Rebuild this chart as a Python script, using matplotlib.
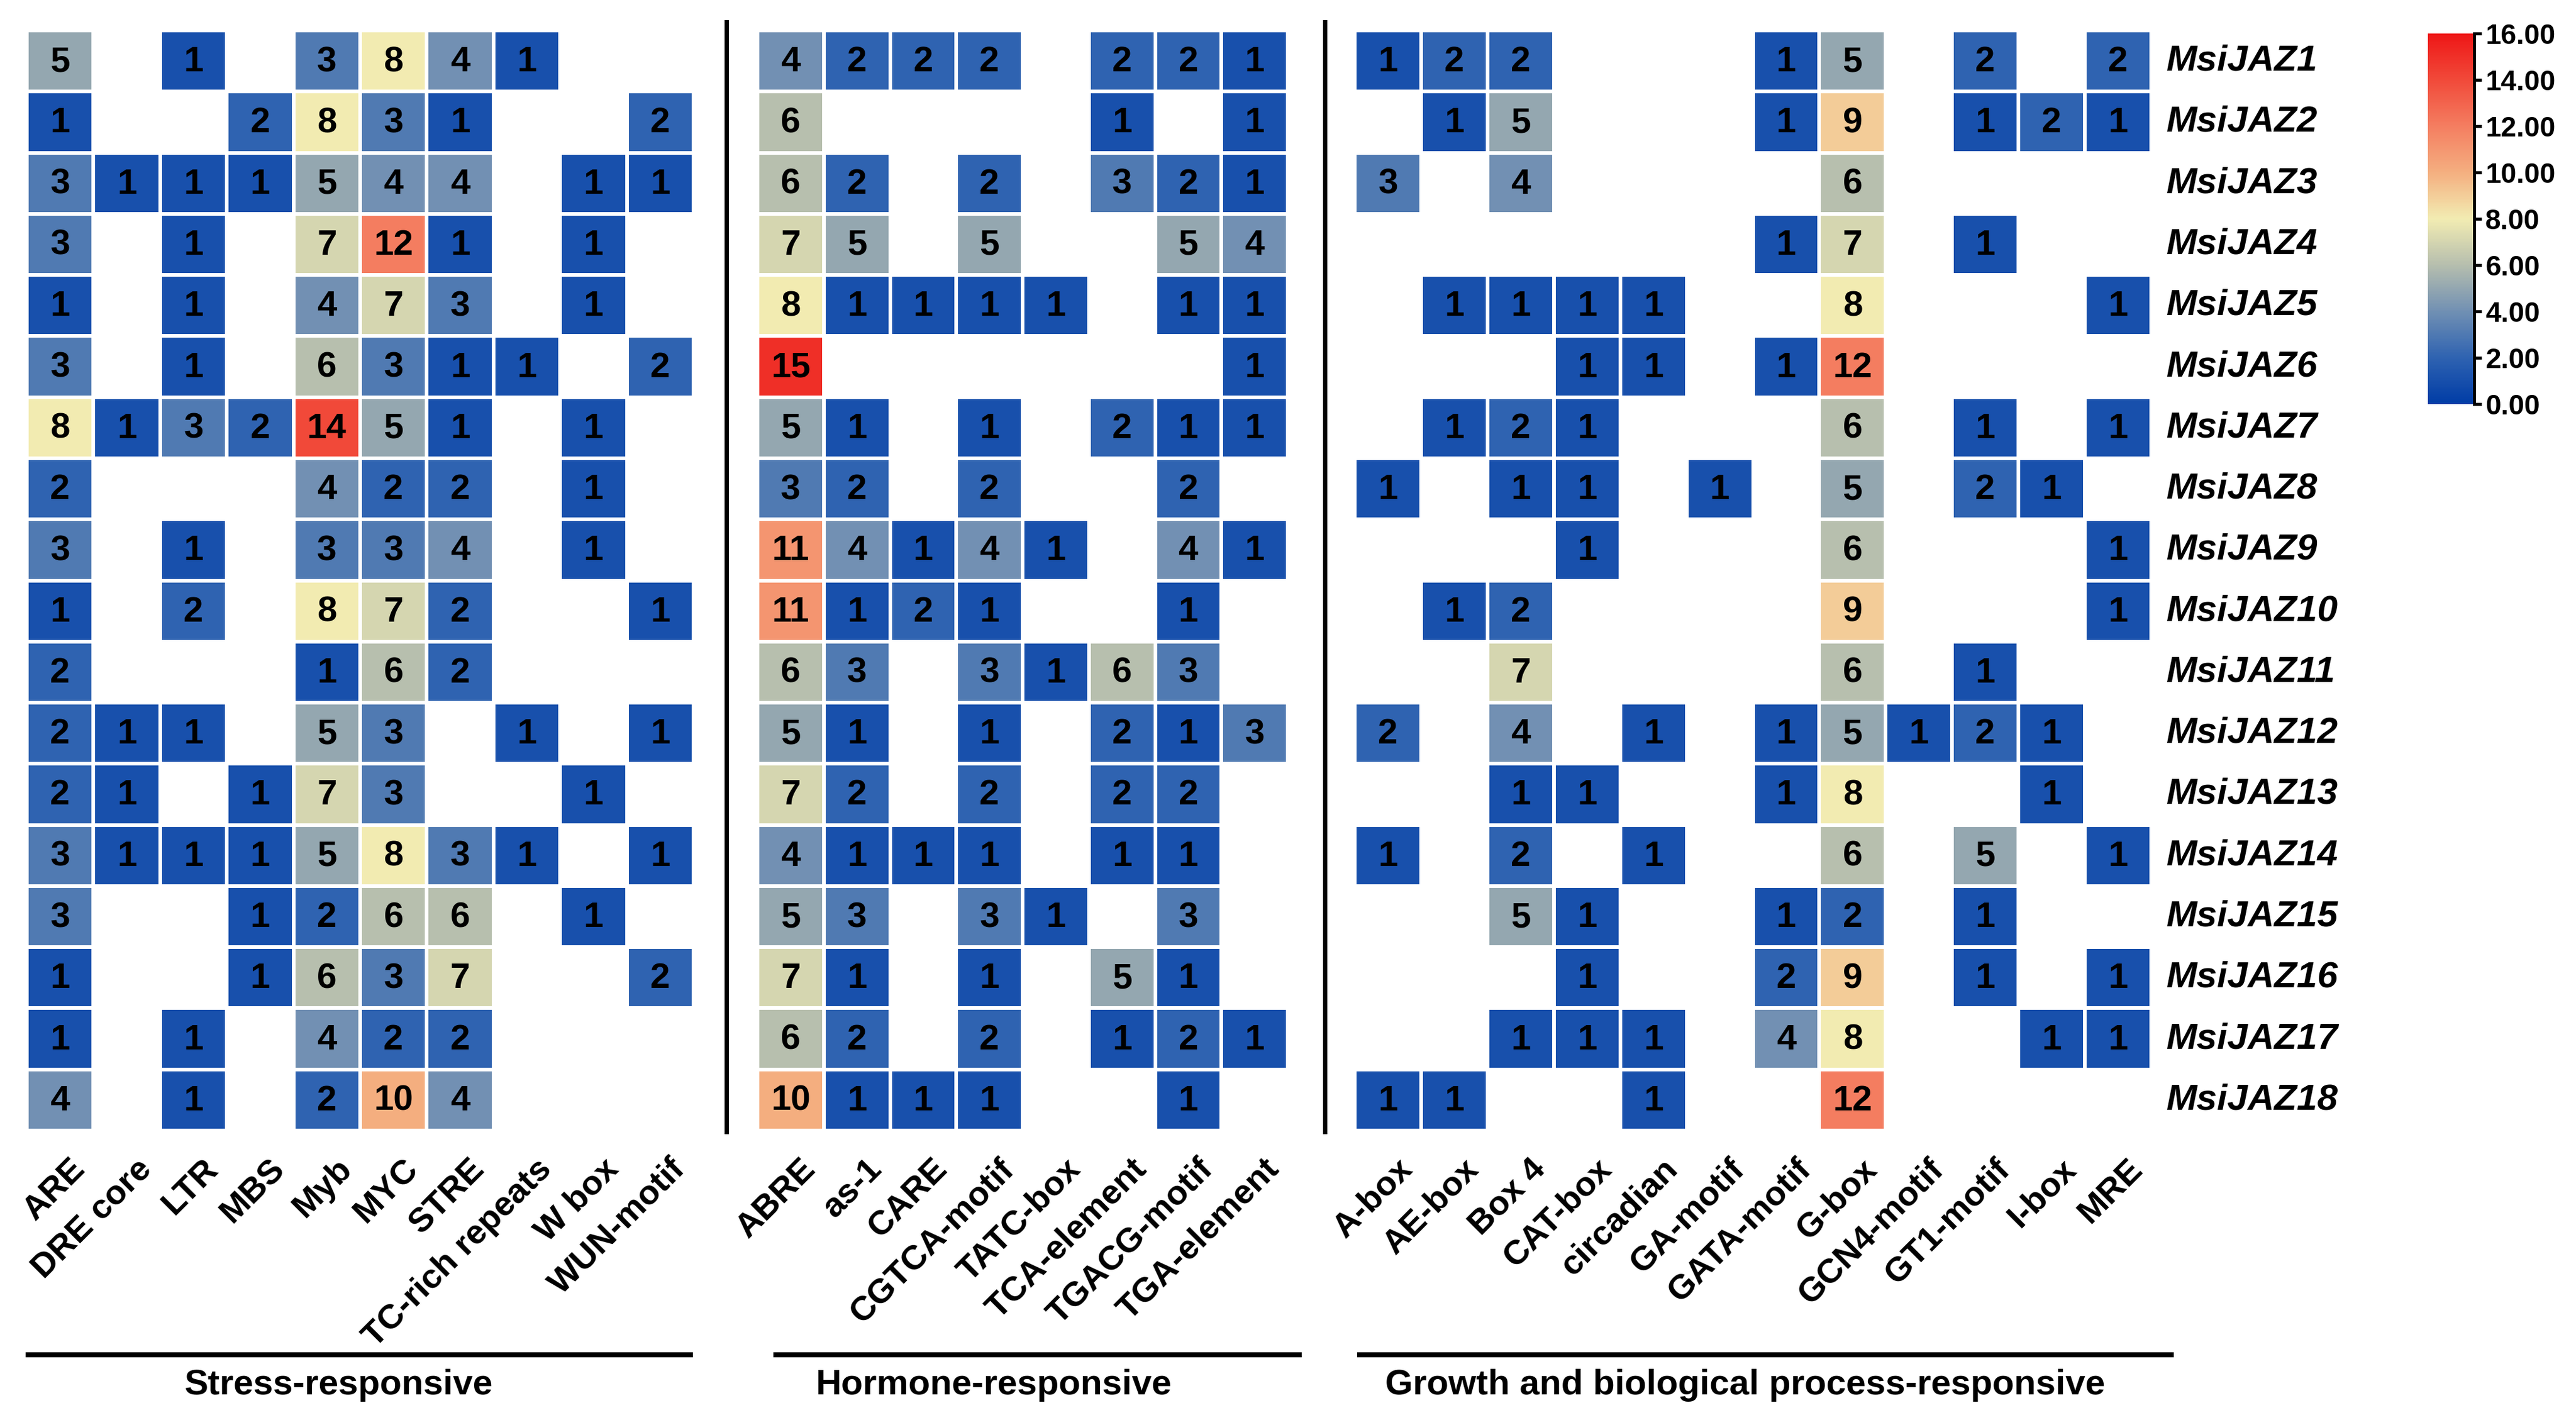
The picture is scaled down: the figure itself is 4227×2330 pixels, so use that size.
import numpy as np
import matplotlib.pyplot as plt
from matplotlib.colors import LinearSegmentedColormap, Normalize

# 基因名称
genes = ['MsiJAZ%d' % i for i in range(1, 19)]

# 三类顺式作用元件
stress_cols = ['ARE', 'DRE core', 'LTR', 'MBS', 'Myb', 'MYC', 'STRE',
               'TC-rich repeats', 'W box', 'WUN-motif']
hormone_cols = ['ABRE', 'as-1', 'CARE', 'CGTCA-motif', 'TATC-box',
                'TCA-element', 'TGACG-motif', 'TGA-element']
growth_cols = ['A-box', 'AE-box', 'Box 4', 'CAT-box', 'circadian', 'GA-motif',
               'GATA-motif', 'G-box', 'GCN4-motif', 'GT1-motif', 'I-box', 'MRE']

# 元件数量 (0 = 无)
stress = [
    [5, 0, 1, 0, 3, 8, 4, 1, 0, 0],
    [1, 0, 0, 2, 8, 3, 1, 0, 0, 2],
    [3, 1, 1, 1, 5, 4, 4, 0, 1, 1],
    [3, 0, 1, 0, 7, 12, 1, 0, 1, 0],
    [1, 0, 1, 0, 4, 7, 3, 0, 1, 0],
    [3, 0, 1, 0, 6, 3, 1, 1, 0, 2],
    [8, 1, 3, 2, 14, 5, 1, 0, 1, 0],
    [2, 0, 0, 0, 4, 2, 2, 0, 1, 0],
    [3, 0, 1, 0, 3, 3, 4, 0, 1, 0],
    [1, 0, 2, 0, 8, 7, 2, 0, 0, 1],
    [2, 0, 0, 0, 1, 6, 2, 0, 0, 0],
    [2, 1, 1, 0, 5, 3, 0, 1, 0, 1],
    [2, 1, 0, 1, 7, 3, 0, 0, 1, 0],
    [3, 1, 1, 1, 5, 8, 3, 1, 0, 1],
    [3, 0, 0, 1, 2, 6, 6, 0, 1, 0],
    [1, 0, 0, 1, 6, 3, 7, 0, 0, 2],
    [1, 0, 1, 0, 4, 2, 2, 0, 0, 0],
    [4, 0, 1, 0, 2, 10, 4, 0, 0, 0],
]
hormone = [
    [4, 2, 2, 2, 0, 2, 2, 1],
    [6, 0, 0, 0, 0, 1, 0, 1],
    [6, 2, 0, 2, 0, 3, 2, 1],
    [7, 5, 0, 5, 0, 0, 5, 4],
    [8, 1, 1, 1, 1, 0, 1, 1],
    [15, 0, 0, 0, 0, 0, 0, 1],
    [5, 1, 0, 1, 0, 2, 1, 1],
    [3, 2, 0, 2, 0, 0, 2, 0],
    [11, 4, 1, 4, 1, 0, 4, 1],
    [11, 1, 2, 1, 0, 0, 1, 0],
    [6, 3, 0, 3, 1, 6, 3, 0],
    [5, 1, 0, 1, 0, 2, 1, 3],
    [7, 2, 0, 2, 0, 2, 2, 0],
    [4, 1, 1, 1, 0, 1, 1, 0],
    [5, 3, 0, 3, 1, 0, 3, 0],
    [7, 1, 0, 1, 0, 5, 1, 0],
    [6, 2, 0, 2, 0, 1, 2, 1],
    [10, 1, 1, 1, 0, 0, 1, 0],
]
growth = [
    [1, 2, 2, 0, 0, 0, 1, 5, 0, 2, 0, 2],
    [0, 1, 5, 0, 0, 0, 1, 9, 0, 1, 2, 1],
    [3, 0, 4, 0, 0, 0, 0, 6, 0, 0, 0, 0],
    [0, 0, 0, 0, 0, 0, 1, 7, 0, 1, 0, 0],
    [0, 1, 1, 1, 1, 0, 0, 8, 0, 0, 0, 1],
    [0, 0, 0, 1, 1, 0, 1, 12, 0, 0, 0, 0],
    [0, 1, 2, 1, 0, 0, 0, 6, 0, 1, 0, 1],
    [1, 0, 1, 1, 0, 1, 0, 5, 0, 2, 1, 0],
    [0, 0, 0, 1, 0, 0, 0, 6, 0, 0, 0, 1],
    [0, 1, 2, 0, 0, 0, 0, 9, 0, 0, 0, 1],
    [0, 0, 7, 0, 0, 0, 0, 6, 0, 1, 0, 0],
    [2, 0, 4, 0, 1, 0, 1, 5, 1, 2, 1, 0],
    [0, 0, 1, 1, 0, 0, 1, 8, 0, 0, 1, 0],
    [1, 0, 2, 0, 1, 0, 0, 6, 0, 5, 0, 1],
    [0, 0, 5, 1, 0, 0, 1, 2, 0, 1, 0, 0],
    [0, 0, 0, 1, 0, 0, 2, 9, 0, 1, 0, 1],
    [0, 0, 1, 1, 1, 0, 4, 8, 0, 0, 1, 1],
    [1, 1, 0, 0, 1, 0, 0, 12, 0, 0, 0, 0],
]

group_names = ['Stress-responsive', 'Hormone-responsive',
               'Growth and biological process-responsive']

# 颜色映射 蓝-灰-黄-红
cmap = LinearSegmentedColormap.from_list('jaz', [
    (0 / 16, '#003CA6'), (2 / 16, '#2F63B1'), (4 / 16, '#7190B3'),
    (6 / 16, '#B6BEAE'), (8 / 16, '#F2ECB2'), (10 / 16, '#F4AF80'),
    (12 / 16, '#F47E61'), (14 / 16, '#F14A3A'), (16 / 16, '#EE1717')])
norm = Normalize(0, 16)

W, H = 4227, 2330
fig = plt.figure(figsize=(W / 300, H / 300), dpi=300)


def rect(x0, x1, y0, y1):
    return [x0 / W, 1 - y1 / H, (x1 - x0) / W, (y1 - y0) / H]


num_font = ['Liberation Sans Narrow', 'Liberation Sans', 'DejaVu Sans']
txt_font = ['Liberation Sans', 'DejaVu Sans']

blocks = [
    (stress, stress_cols, rect(44, 1138, 50, 1855)),
    (hormone, hormone_cols, rect(1243, 2113, 50, 1855)),
    (growth, growth_cols, rect(2223, 3530, 50, 1855)),
]
# 分组下划线 / 标题位置 (数据坐标)
bar_span = [(-0.02, 9.99), (0.24, 8.21), (0.04, 12.34)]
title_x = [4.68, 3.56, 5.88]

axes = []
for k, (vals, cols, r) in enumerate(blocks):
    ax = fig.add_axes(r)
    data = np.ma.masked_equal(np.array(vals, dtype=float), 0)
    nr, nc = data.shape
    mesh = ax.pcolormesh(np.arange(nc + 1), np.arange(nr + 1), data,
                         cmap=cmap, norm=norm, edgecolors='white', linewidth=1.4)
    ax.set_xlim(0, nc)
    ax.set_ylim(nr, 0)
    ax.axis('off')
    for i in range(nr):
        for j in range(nc):
            if vals[i][j] > 0:
                ax.text(j + 0.5, i + 0.52, str(vals[i][j]), ha='center', va='center',
                        fontsize=14, fontweight='bold', family=num_font, color='black')
    for j, c in enumerate(cols):
        ax.text(j + 0.63, nr + 0.37, c, rotation=45, ha='right', va='top',
                rotation_mode='anchor', fontsize=13.5, fontweight='bold',
                family=txt_font, clip_on=False)
    ax.plot(bar_span[k], [nr + 3.67, nr + 3.67], color='black', lw=2,
            clip_on=False, solid_capstyle='butt')
    ax.text(title_x[k], nr + 4.17, group_names[k], ha='center', va='center',
            fontsize=14, fontweight='bold', family=txt_font)
    axes.append(ax)

# 分隔竖线
axes[0].plot([10.49, 10.49], [-0.14, 18.02], color='black', lw=1.7, clip_on=False)
axes[1].plot([8.56, 8.56], [-0.14, 18.02], color='black', lw=1.7, clip_on=False)

# 基因名
for i, g in enumerate(genes):
    axes[2].text(12.23, i + 0.5, g, ha='left', va='center', fontsize=14.5,
                 fontweight='bold', fontstyle='italic', family=txt_font)

# 色条
cax = fig.add_axes(rect(3984, 4060, 55, 663))
cb = fig.colorbar(mesh, cax=cax, ticks=np.arange(0, 17, 2))
cb.outline.set_visible(False)
cax.spines['right'].set_visible(True)
cax.spines['right'].set_linewidth(1.2)
cax.tick_params(axis='y', length=2.8, width=1.2, pad=1.5, labelsize=11)
cb.ax.set_yticklabels(['%.2f' % t for t in np.arange(0, 17, 2)])
for t in cax.get_yticklabels():
    t.set_fontweight('bold')
    t.set_family(txt_font)

fig.savefig('out.png', dpi=300)
